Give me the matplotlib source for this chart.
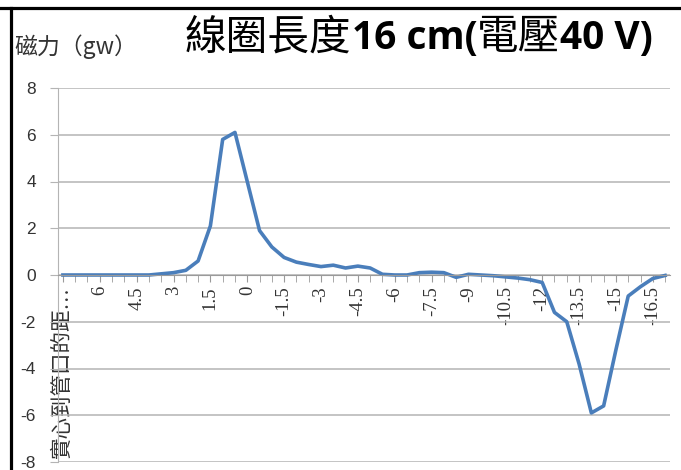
import matplotlib
matplotlib.use("Agg")
from matplotlib import pyplot as plt
from matplotlib.lines import Line2D
from matplotlib.offsetbox import TextArea, HPacker, AnnotationBbox

CJK = "Noto Sans CJK TC"

# first category is the header cell of the distance column
first_label = "實心到管口的距…"
positions_cm = [7, 6.5, 6, 5.5, 5, 4.5, 4, 3.5, 3, 2.5, 2, 1.5, 1, 0.5, 0,
                -0.5, -1, -1.5, -2, -2.5, -3, -3.5, -4, -4.5, -5, -5.5, -6,
                -6.5, -7, -7.5, -8, -8.5, -9, -9.5, -10, -10.5, -11, -11.5,
                -12, -12.5, -13, -13.5, -14, -14.5, -15, -15.5, -16, -16.5, -17]
# magnetic force (gw), one value per category including the header row
force_gw = [0, 0, 0, 0, 0, 0, 0, 0, 0.05, 0.1, 0.2, 0.6, 2.1, 5.8, 6.1,
            4.0, 1.9, 1.2, 0.75, 0.55, 0.45, 0.36, 0.42, 0.3, 0.38, 0.3,
            0.03, 0, 0, 0.1, 0.12, 0.1, -0.1, 0.03, 0, -0.03, -0.08, -0.13,
            -0.2, -0.32, -1.6, -2.0, -3.8, -5.9, -5.6, -3.2, -0.9, -0.5,
            -0.15, -0.02]
y_ticks = [-8, -6, -4, -2, 0, 2, 4, 6, 8]

W, H = 681, 470


def main():
    fig = plt.figure(figsize=(W / 100, H / 100), dpi=100)
    ax = fig.add_axes([58 / W, 8 / H, 612 / W, 374 / H])
    _plot_curve(ax)
    _decorate(fig)
    fig.savefig("out.png", dpi=100)


def _plot_curve(ax):
    xs = list(range(len(force_gw)))
    ax.plot(xs, force_gw, color="#4a7ebb", lw=2.6, solid_joinstyle="round")

    # spine position resets the ticks, so it goes before any tick styling
    for side in ("top", "right"):
        ax.spines[side].set_visible(False)
    ax.spines["bottom"].set_position(("data", 0))
    ax.spines["bottom"].set_color("#9a9a9a")
    ax.spines["left"].set_color("#b4b4b4")

    ax.set_xlim(-0.4, len(xs) - 0.6)
    ax.set_ylim(-8, 8)
    ax.grid(axis="y", color="#b4b4b4", lw=1.1)
    ax.set_axisbelow(True)
    ax.tick_params(axis="x", which="both", direction="out", length=5,
                   color="#9a9a9a", pad=3)
    ax.tick_params(axis="y", direction="out", length=6, color="#b4b4b4",
                   pad=10)

    ax.set_yticks(y_ticks)
    ax.set_yticklabels(["%d" % v for v in y_ticks], fontsize=12.5,
                       family="Liberation Sans", color="#333333")

    labels = [first_label] + ["%g" % p for p in positions_cm]
    ticks = xs[::3]
    ax.set_xticks(xs, minor=True)
    ax.set_xticks(ticks)
    texts = ax.set_xticklabels([labels[i] for i in ticks], rotation=90,
                               fontsize=13.5, color="#333333",
                               family=["Liberation Serif", CJK])
    texts[0].set_fontsize(15.5)


def _decorate(fig):
    fig.text(14 / W, 1 - 47 / H, "磁力（gw）", family=CJK, fontsize=16.5,
             color="#333333", va="center", ha="left")

    thin = dict(family=CJK, fontsize=30, fontweight="light", color="black")
    bold = dict(family="Open Sans", fontsize=28, fontweight="bold",
                color="black")
    parts = [("線圈長度", thin), ("16 cm(", bold), ("電壓", thin),
             ("40 V)", bold)]
    boxes = [TextArea(s, textprops=p) for s, p in parts]
    title = HPacker(children=boxes, align="baseline", pad=0, sep=0)
    fig.add_artist(AnnotationBbox(title, (185 / W, 1 - 38 / H),
                                  xycoords="figure fraction",
                                  box_alignment=(0, 0.5), frameon=False,
                                  pad=0))

    # black frame along the top and left edges
    fig.add_artist(Line2D([0, 1], [1 - 8 / H, 1 - 8 / H],
                          transform=fig.transFigure, color="black", lw=2.3))
    fig.add_artist(Line2D([11 / W, 11 / W], [0, 1 - 8 / H],
                          transform=fig.transFigure, color="black", lw=2.3))


if __name__ == "__main__":
    main()
